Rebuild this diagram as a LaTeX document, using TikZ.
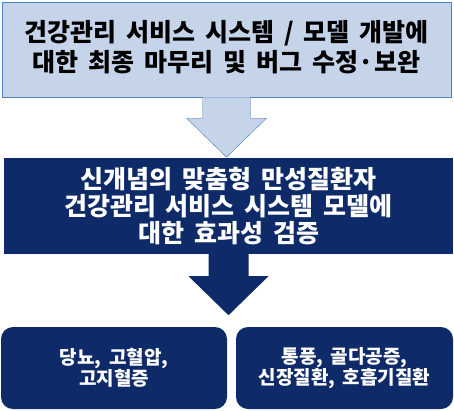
\documentclass[tikz,border=0pt]{standalone}
\usepackage{fontspec}
\setmainfont{Noto Sans CJK KR}
\usetikzlibrary{calc}
\definecolor{paleblue}{RGB}{198,212,234}
\definecolor{edgeblue}{RGB}{79,129,189}
\definecolor{navy}{RGB}{14,42,104}
\newcommand\widegaps{\spaceskip=0.4em\relax}
\begin{document}
\begin{tikzpicture}[x=1pt,y=-1pt,
	stage/.style={align=center,inner sep=0pt},
	disease/.style={fill=navy,text=white,rounded corners=12pt,align=center,inner sep=0pt,
		minimum height=82pt,font={\bfseries\fontsize{19}{21}\selectfont\widegaps}}]
	\useasboundingbox (0,0) rectangle (454,410);
	% boxes
	\node [stage,draw=edgeblue,fill=paleblue,minimum width=449pt,minimum height=95pt]
	(finish) at (226.5,49.5) {};
	\node [stage,font={\bfseries\fontsize{25}{30}\selectfont\widegaps}]
	(finishtext) at (226.5,47) {건강관리 서비스 시스템 / 모델 개발에\\대한 최종 마무리 및 버그 수정·보완};
	\node [stage,fill=navy,text=white,minimum width=449pt,minimum height=96pt,
	font={\bfseries\fontsize{25}{27}\selectfont\widegaps}]
	(verify) at (228.5,206) {신개념의 맞춤형 만성질환자\\건강관리 서비스 시스템 모델에\\대한 효과성 검증};
	\node [disease,minimum width=226pt] (chronic) at (114,368) {당뇨, 고혈압,\\고지혈증};
	\node [disease,minimum width=217pt] (other) at (344.5,368) {통풍, 골다공증,\\신장질환, 호흡기질환};
	% arrows
	\draw [edgeblue,fill=paleblue] ($(finish.south)+(-24,0)$) -- ++(0,21) -- ++(-16,0)
	-- ++(40,39) -- ++(40,-39) -- ++(-16,0) -- ++(0,-21) -- cycle;
	\fill [navy] ($(verify.south)+(-20,0)$) -- ++(0,22) -- ++(-20,0)
	-- ++(40,39) -- ++(40,-39) -- ++(-20,0) -- ++(0,-22) -- cycle;
\end{tikzpicture}
\end{document}
